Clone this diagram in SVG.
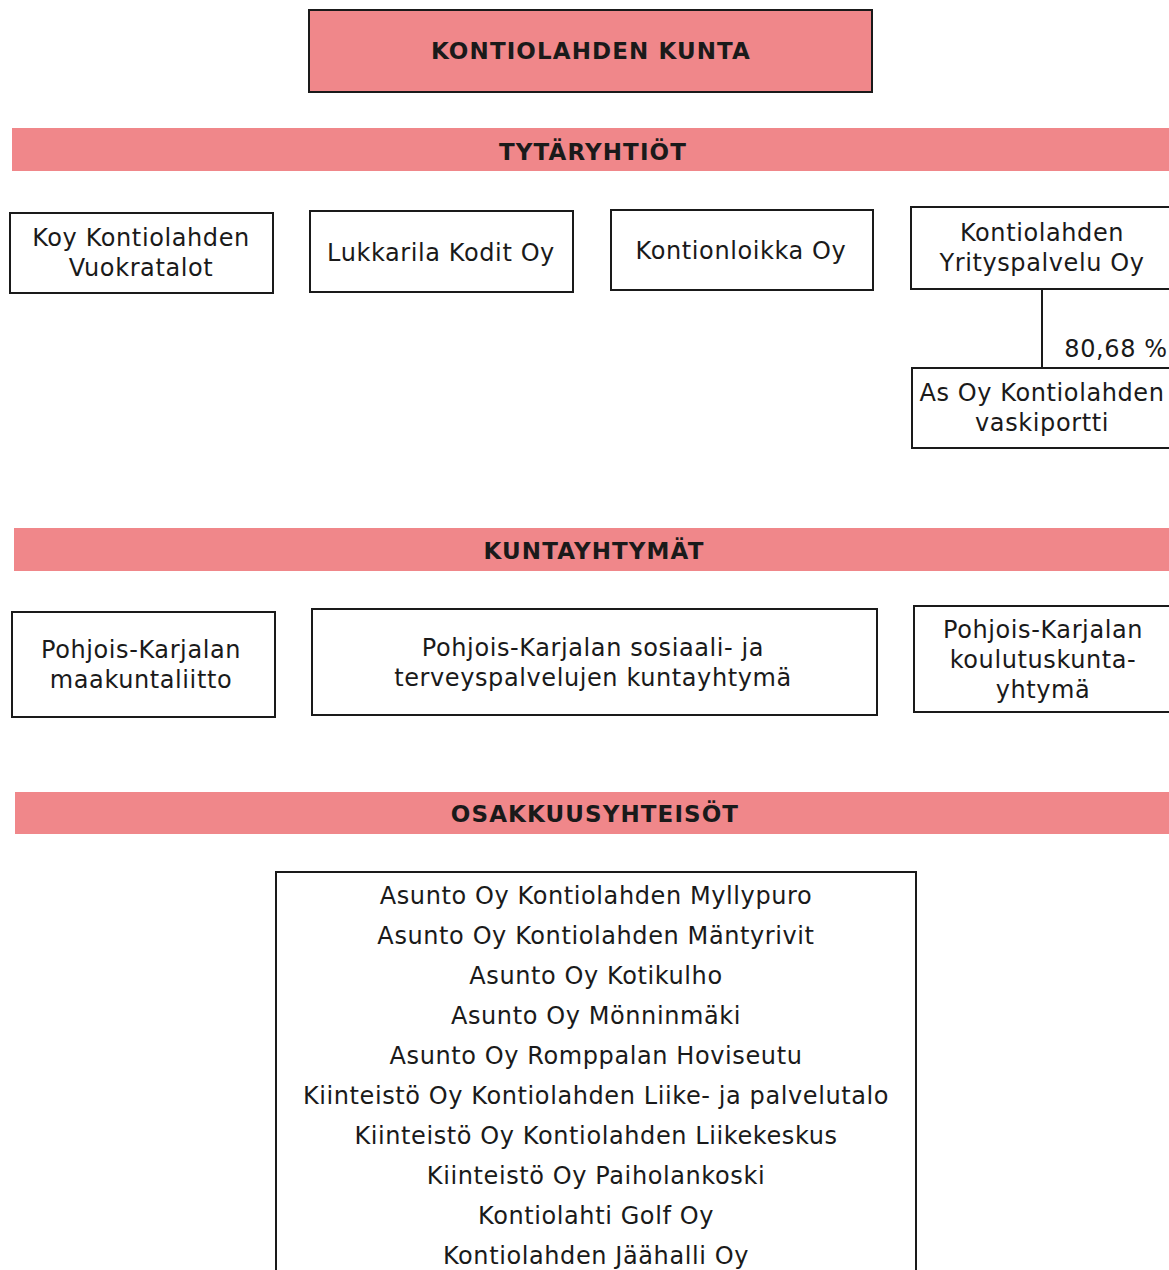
<svg xmlns="http://www.w3.org/2000/svg" width="1169" height="1270" viewBox="0 0 1169 1270">
<style>
.bx{fill:#fff;stroke:#1a1a1a;stroke-width:2}
.band{fill:#F0878A}
.t{font-family:"DejaVu Sans",Verdana,sans-serif;font-size:24px;letter-spacing:0.6px;fill:#1a1a1a;text-anchor:middle}
.h{font-family:"DejaVu Sans",Verdana,sans-serif;font-size:23px;letter-spacing:1.1px;font-weight:bold;fill:#1a1a1a;text-anchor:middle}
.ln{stroke:#1a1a1a;stroke-width:2;fill:none}
</style>
<rect width="1169" height="1270" fill="#fff"/>
<g id="kunta">
<rect x="309" y="10" width="563" height="82" fill="#F0878A" stroke="#1a1a1a" stroke-width="2"/>
<text class="h" x="591" y="59">KONTIOLAHDEN KUNTA</text>
</g>
<g id="band-tytaryhtiot">
<rect class="band" x="12" y="128" width="1157" height="43"/>
<text class="h" x="593" y="160">TYTÄRYHTIÖT</text>
</g>
<g id="koy">
<rect class="bx" x="10" y="213" width="263" height="80"/>
<text class="t" x="141" y="246">Koy Kontiolahden</text>
<text class="t" x="141" y="276">Vuokratalot</text>
</g>
<g id="lukkarila">
<rect class="bx" x="310" y="211" width="263" height="81"/>
<text class="t" x="441" y="261">Lukkarila Kodit Oy</text>
</g>
<g id="kontionloikka">
<rect class="bx" x="611" y="210" width="262" height="80"/>
<text class="t" x="741" y="259">Kontionloikka Oy</text>
</g>
<g id="yrityspalvelu">
<rect class="bx" x="911" y="207" width="262" height="82"/>
<text class="t" x="1042" y="241">Kontiolahden</text>
<text class="t" x="1042" y="271">Yrityspalvelu Oy</text>
</g>
<g id="vaskiportti">
<rect class="bx" x="912" y="368" width="262" height="80"/>
<text class="t" x="1042" y="401">As Oy Kontiolahden</text>
<text class="t" x="1042" y="431">vaskiportti</text>
</g>
<g id="connectors">
<line class="ln" x1="1042" y1="289" x2="1042" y2="368"/>
<text class="t" x="1116" y="357">80,68 %</text>
</g>
<g id="band-kuntayhtymat">
<rect class="band" x="14" y="528" width="1155" height="43"/>
<text class="h" x="594" y="559">KUNTAYHTYMÄT</text>
</g>
<g id="maakuntaliitto">
<rect class="bx" x="12" y="612" width="263" height="105"/>
<text class="t" x="141" y="658">Pohjois-Karjalan</text>
<text class="t" x="141" y="688">maakuntaliitto</text>
</g>
<g id="siun">
<rect class="bx" x="312" y="609" width="565" height="106"/>
<text class="t" x="593" y="656">Pohjois-Karjalan sosiaali- ja</text>
<text class="t" x="593" y="686">terveyspalvelujen kuntayhtymä</text>
</g>
<g id="koulutus">
<rect class="bx" x="914" y="606" width="262" height="106"/>
<text class="t" x="1043" y="638">Pohjois-Karjalan</text>
<text class="t" x="1043" y="668">koulutuskunta-</text>
<text class="t" x="1043" y="698">yhtymä</text>
</g>
<g id="band-osakkuus">
<rect class="band" x="15" y="792" width="1154" height="42"/>
<text class="h" x="595" y="822">OSAKKUUSYHTEISÖT</text>
</g>
<g id="osakkuus-list">
<rect class="bx" x="276" y="872" width="640" height="410"/>
<text class="t" x="596" y="904">Asunto Oy Kontiolahden Myllypuro</text>
<text class="t" x="596" y="944">Asunto Oy Kontiolahden Mäntyrivit</text>
<text class="t" x="596" y="984">Asunto Oy Kotikulho</text>
<text class="t" x="596" y="1024">Asunto Oy Mönninmäki</text>
<text class="t" x="596" y="1064">Asunto Oy Romppalan Hoviseutu</text>
<text class="t" x="596" y="1104">Kiinteistö Oy Kontiolahden Liike- ja palvelutalo</text>
<text class="t" x="596" y="1144">Kiinteistö Oy Kontiolahden Liikekeskus</text>
<text class="t" x="596" y="1184">Kiinteistö Oy Paiholankoski</text>
<text class="t" x="596" y="1224">Kontiolahti Golf Oy</text>
<text class="t" x="596" y="1264">Kontiolahden Jäähalli Oy</text>
</g>
</svg>
